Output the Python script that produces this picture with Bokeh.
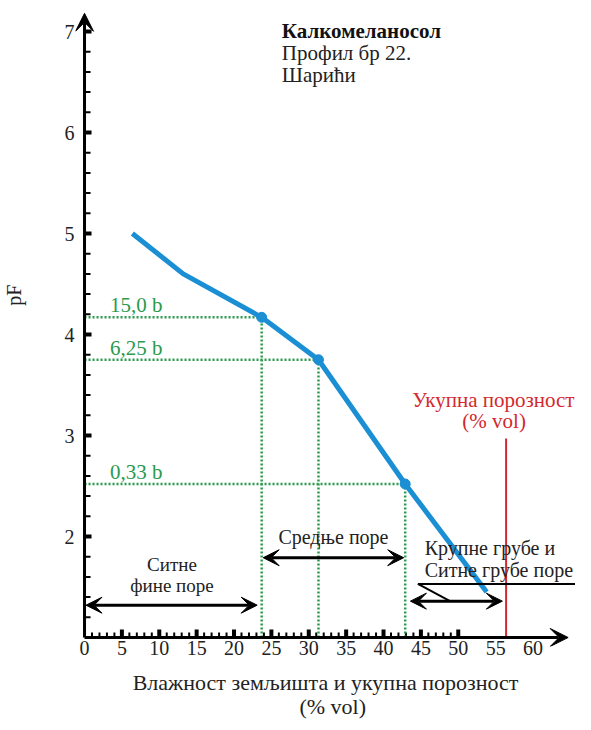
import math
from bokeh.plotting import figure
from bokeh.models import Arrow, VeeHead, FixedTicker, LinearAxis
from bokeh.core.properties import value
from bokeh.embed import file_html
from bokeh.resources import INLINE

# ---------------- data ----------------
moisture = [6.4, 13.2, 23.7, 31.3, 42.9, 53.8]          # % vol
pf_values = [5.0, 4.6, 4.17, 3.75, 2.52, 1.45]          # pF
marked_moisture = [23.7, 31.3, 42.9]
marked_pf = [4.17, 3.75, 2.52]
marked_labels = ["15,0 b", "6,25 b", "0,33 b"]
total_porosity = 56.4
total_porosity_top = 2.97
x_tick_labels = list(range(0, 65, 5))
x_major_marks = list(range(5, 55, 5))
x_minor_marks = [i for i in range(1, 50) if i % 5]
y_tick_labels = [2, 3, 4, 5, 6, 7]
y_minor_marks = [round(1 + 0.2 * i, 1) for i in range(1, 31) if i % 5]
pore_names = ["Ситне\nфине поре", "Средње поре", "Крупне грубе и\nСитне грубе поре"]
pore_start = [0.2, 23.9, 43.6]
pore_end = [23.1, 42.7, 55.9]
pore_level = [1.32, 1.79, 1.36]
title_lines = ["Калкомеланосол", "Профил бр 22.", "Шарићи"]
x_title = ["Влажност земљишта и укупна порозност", "(% vol)"]

FONT = "Liberation Serif"
BLUE = "#1b8fd3"
GREEN = "#2a9a4c"
RED = "#d3282d"
DARK = "#222222"

PX_X = 7.46     # pixels per % vol
PX_Y = 101.0    # pixels per pF unit

p = figure(width=575, height=722,
           x_range=(-9 / PX_X, -9 / PX_X + 499 / PX_X),
           y_range=(1 - 9 / PX_Y, 1 + 625 / PX_Y),
           output_backend="svg", toolbar_location=None,
           min_border=0, min_border_left=68, min_border_right=0,
           min_border_top=12, min_border_bottom=76)
p.grid.visible = False
p.outline_line_color = None
p.background_fill_color = "white"


def bare(axis):
    axis.axis_line_color = None
    axis.major_tick_line_color = None
    axis.minor_tick_line_color = None
    axis.major_tick_out = 0
    axis.minor_tick_out = 0
    axis.major_tick_in = 0
    axis.minor_tick_in = 0
    axis.major_label_text_font = FONT
    axis.major_label_text_color = DARK


# x axis: tick labels + first line of the title
xa = p.xaxis[0]
bare(xa)
xa.ticker = FixedTicker(ticks=x_tick_labels, minor_ticks=[])
xa.major_label_text_font_size = "20px"
xa.major_label_standoff = -6
xa.axis_label = x_title[0]
xa.axis_label_text_font = FONT
xa.axis_label_text_font_style = "normal"
xa.axis_label_text_font_size = "22px"
xa.axis_label_text_color = DARK
xa.axis_label_standoff = 12

# second line of the x title, carried by an outer axis
x_unit_axis = LinearAxis(ticker=FixedTicker(ticks=[33.2], minor_ticks=[]),
                         major_label_overrides={33.2: x_title[1]})
bare(x_unit_axis)
x_unit_axis.major_label_text_font_size = "22px"
x_unit_axis.major_label_standoff = -4
p.add_layout(x_unit_axis, "below")

# y axis labels
ya = p.yaxis[0]
bare(ya)
ya.ticker = FixedTicker(ticks=y_tick_labels, minor_ticks=[])
ya.major_label_text_font_size = "20px"
ya.major_label_standoff = 1

# y-axis name as an outer axis carrying a single label
pf_axis = LinearAxis(ticker=FixedTicker(ticks=[4.39], minor_ticks=[]),
                     major_label_overrides={4.39: "pF"},
                     major_label_orientation="vertical")
bare(pf_axis)
pf_axis.major_label_text_font_size = "20px"
pf_axis.major_label_standoff = 36
p.add_layout(pf_axis, "left")

# axis lines with arrow heads
p.add_layout(Arrow(end=VeeHead(size=18, fill_color="black", line_color="black"),
                   x_start=0, y_start=1, x_end=64.7, y_end=1,
                   line_color="black", line_width=3))
p.add_layout(Arrow(end=VeeHead(size=18, fill_color="black", line_color="black"),
                   x_start=0, y_start=1, x_end=0, y_end=7.18,
                   line_color="black", line_width=3))

# tick marks
p.segment(x0=x_minor_marks, y0=1, x1=x_minor_marks, y1=1 + 5 / PX_Y,
          line_color="black", line_width=2)
p.segment(x0=x_major_marks, y0=1, x1=x_major_marks, y1=1 + 8 / PX_Y,
          line_color="black", line_width=4)
p.segment(x0=0, y0=y_minor_marks, x1=6 / PX_X, y1=y_minor_marks,
          line_color="black", line_width=2)
p.segment(x0=0, y0=y_tick_labels, x1=7 / PX_X, y1=y_tick_labels,
          line_color="black", line_width=4)

# green dotted guides
p.segment(x0=[0] * len(marked_pf), y0=marked_pf, x1=marked_moisture, y1=marked_pf,
          line_color=GREEN, line_width=2.5, line_dash="2 2")
p.segment(x0=marked_moisture, y0=[1] * len(marked_pf), x1=marked_moisture, y1=marked_pf,
          line_color=GREEN, line_width=2.5, line_dash="2 2")
p.text(x=[3.4] * len(marked_pf), y=[v + 0.12 for v in marked_pf], text=marked_labels,
       text_font=value(FONT), text_font_size="21px", text_color=GREEN,
       text_align="left", text_baseline="middle")

# red total porosity line
p.segment(x0=[total_porosity], y0=[1], x1=[total_porosity], y1=[total_porosity_top],
          line_color=RED, line_width=2)
p.text(x=[54.7, 54.8], y=[3.35, 3.14], text=["Укупна порозност", "(% vol)"],
       text_font=value(FONT), text_font_size="21px", text_color=RED,
       text_align="center", text_baseline="middle")

# pF curve
p.line(moisture, pf_values, line_color=BLUE, line_width=5)
p.scatter(marked_moisture, marked_pf, size=10, fill_color=BLUE, line_color=BLUE)

# pore class arrows
for xs, xe, yl in zip(pore_start, pore_end, pore_level):
    p.add_layout(Arrow(start=VeeHead(size=16, fill_color="black", line_color="black"),
                       end=VeeHead(size=16, fill_color="black", line_color="black"),
                       x_start=xs, y_start=yl, x_end=xe, y_end=yl,
                       line_color="black", line_width=3))

p.text(x=[11.7, 11.7], y=[1.726, 1.515], text=pore_names[0].split("\n"),
       text_font=value(FONT), text_font_size="19px", text_color=DARK,
       text_align="center", text_baseline="middle")
p.text(x=[33.3], y=[1.994], text=[pore_names[1]],
       text_font=value(FONT), text_font_size="20px", text_color=DARK,
       text_align="center", text_baseline="middle")
p.text(x=[45.5, 45.5], y=[1.89, 1.665], text=pore_names[2].split("\n"),
       text_font=value(FONT), text_font_size="20px", text_color=DARK,
       text_align="left", text_baseline="middle")
p.segment(x0=[44.6, 44.6], y0=[1.53, 1.53], x1=[67.7, 48.9], y1=[1.53, 1.36],
          line_color="black", line_width=2)

# title block
p.text(x=[26.4], y=[7.005], text=[title_lines[0]],
       text_font=value(FONT), text_font_size="21px", text_font_style="bold",
       text_color="#111111", text_align="left", text_baseline="middle")
p.text(x=[26.4, 26.4], y=[6.79, 6.565], text=title_lines[1:],
       text_font=value(FONT), text_font_size="21px",
       text_color=DARK, text_align="left", text_baseline="middle")

open("out.html", "w").write(file_html(p, INLINE))
